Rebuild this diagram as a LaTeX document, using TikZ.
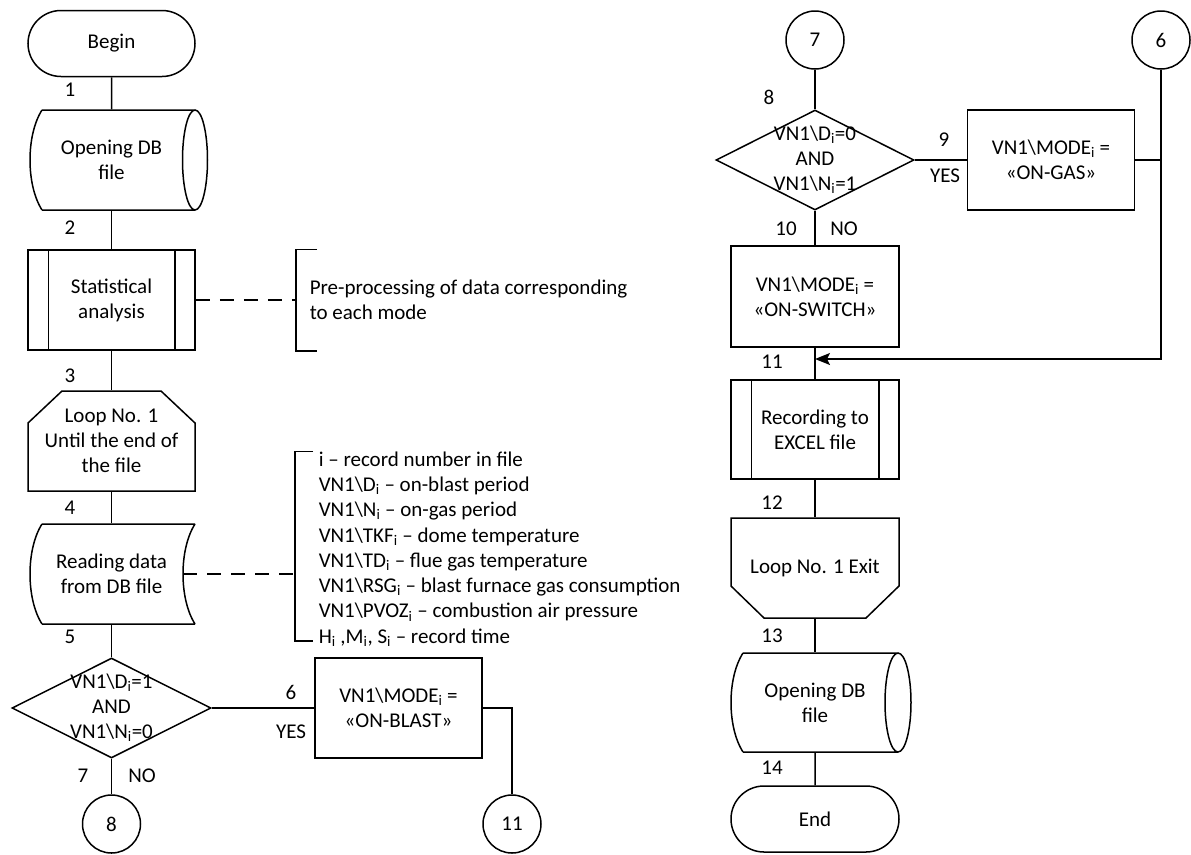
\documentclass[tikz,border=0pt]{standalone}
\usepackage{fontspec}
\setmainfont{Carlito}
\usetikzlibrary{shapes.geometric,shapes.misc,arrows.meta}
\newcommand\sbi{\textsubscript{i}}
\newcommand\bsl{\textbackslash{}}
\begin{document}
\begin{tikzpicture}[x=1pt,y=-1pt, line width=1.5pt,
  every node/.style={font=\fontsize{21}{25}\selectfont, align=center, inner sep=0pt, text=black},
  term/.style={rounded rectangle, draw, minimum width=167pt, minimum height=66pt},
  proc/.style={rectangle, draw, minimum width=167pt, minimum height=100pt},
  ghost/.style={rectangle, minimum width=167pt, minimum height=100pt},
  conn/.style={circle, draw, minimum size=58pt},
  dec/.style={diamond, draw, minimum width=199pt, minimum height=100pt},
  dline/.style={dash pattern=on 14pt off 10pt},
  brk/.style={rectangle, minimum width=0pt},
  arr/.style={-{Stealth[length=15pt,width=12pt,inset=3pt]}},
]
\useasboundingbox (0,0) rectangle (1191,854);

% ---------- left column ----------
\node[term] (begin) at (111.5,43.5) {Begin};

\node[ghost] (odb) at (111.5,160) {Opening DB\\file};
\draw (42,110) -- (195,110) (42,210) -- (195,210)
      (42,110) .. controls (26,135) and (26,185) .. (42,210)
      (195,160) ellipse [x radius=12.5, y radius=50];

\node[proc] (stat) at (111.5,300) {Statistical\\analysis};
\draw ([xshift=21pt]stat.north west) -- ([xshift=21pt]stat.south west)
      ([xshift=-21pt]stat.north east) -- ([xshift=-21pt]stat.south east);

\node[ghost] (loop) at (111.5,441) {Loop No. 1\\Until the end of\\the file};
\draw (28,491) -- (28,423) -- (62,391) -- (161,391) -- (195,423) -- (195,491) -- cycle;

\node[ghost] (rd) at (111.5,574) {Reading data\\from DB file};
\draw (42,524) -- (195,524) (42,624) -- (195,624)
      (42,524) .. controls (26,549) and (26,599) .. (42,624)
      (195,524) .. controls (179,549) and (179,599) .. (195,624);
\coordinate (rdr) at (183,574);

\node[dec] (d1) at (111.5,708) {};
\node (d1t) at (111.5,708) {VN1\bsl D\sbi=1\\AND\\VN1\bsl N\sbi=0};

\node[proc] (b6) at (398.5,708) {VN1\bsl MODE\sbi{} =\\«ON-BLAST»};
\node[conn] (c8) at (111.5,824) {8};
\node[conn] (c11) at (512,824) {11};

% brackets and notes
\node[brk, minimum height=100pt] (br1) at (296,300) {};
\draw ([xshift=21pt]br1.north) -- (br1.north) -- (br1.south) -- ([xshift=21pt]br1.south);
\node[anchor=west, align=left] (note1) at (309,300) {Pre-processing of data corresponding\\to each mode};

\node[brk, minimum height=188pt] (br2) at (295,546) {};
\draw ([xshift=18pt]br2.north) -- (br2.north) -- (br2.south) -- ([xshift=18pt]br2.south);
\node[anchor=west, align=left, font=\fontsize{21}{25.3}\selectfont] (note2) at (318,549) {%
i -- record number in file\\
VN1\bsl D\sbi{} -- on-blast period\\
VN1\bsl N\sbi{} -- on-gas period\\
VN1\bsl TKF\sbi{} -- dome temperature\\
VN1\bsl TD\sbi{} -- flue gas temperature\\
VN1\bsl RSG\sbi{} -- blast furnace gas consumption\\
VN1\bsl PVOZ\sbi{} -- combustion air pressure\\
H\sbi{} ,M\sbi, S\sbi{} -- record time};

% left connectors
\draw (begin) -- (odb);
\draw (odb) -- (stat);
\draw (stat) -- (loop);
\draw (loop) -- (rd);
\draw (rd) -- (d1);
\draw (d1) -- (c8);
\draw (d1.east) -- (b6.west);
\draw (b6.east) -| (c11);
\draw[dline] (stat) -- (br1);
\draw[dline] (rdr) -- (rdr -| br2);

% left labels
\node (l1) at (70,90) {1};
\node (l2) at (70,228) {2};
\node (l3) at (70,376) {3};
\node (l4) at (70,508) {4};
\node (l5) at (70,637) {5};
\node (l6) at (291,692) {6};
\node (y6) at (291,732) {YES};
\node (l7) at (83,776) {7};
\node (n7) at (142,776) {NO};

% ---------- right column ----------
\node[conn] (c7) at (815,40) {7};
\node[conn] (c6) at (1161,40) {6};

\node[dec, minimum width=198pt] (d2) at (815,160) {};
\node (d2t) at (815,160) {VN1\bsl D\sbi=0\\AND\\VN1\bsl N\sbi=1};

\node[proc] (gas) at (1051,160) {VN1\bsl MODE\sbi{} =\\«ON-GAS»};
\node[proc, minimum width=168pt, minimum height=101pt] (sw) at (815,296.5) {VN1\bsl MODE\sbi{} =\\«ON-SWITCH»};
\coordinate (m11) at (815,359);

\node[proc, minimum width=168pt, minimum height=99pt] (rec) at (815,429.5) {Recording to\\EXCEL file};
\draw ([xshift=21pt]rec.north west) -- ([xshift=21pt]rec.south west)
      ([xshift=-21pt]rec.north east) -- ([xshift=-21pt]rec.south east);

\node[ghost, minimum width=168pt] (lexit) at (815,568) {Loop No. 1 Exit};
\draw (731,518) -- (899,518) -- (899,586) -- (866,618) -- (764,618) -- (731,586) -- cycle;

\node[ghost, minimum height=99pt] (odb2) at (815,702.5) {Opening DB\\file};
\draw (743,653) -- (898,653) (743,752) -- (898,752)
      (743,653) .. controls (727,678) and (727,727) .. (743,752)
      (898,702.5) ellipse [x radius=13, y radius=49.5];

\node[term, minimum width=168pt] (end) at (815,819) {End};

% right connectors
\draw (c7) -- (d2);
\draw (d2.east) -- (gas.west);
\draw (gas.east) -- (gas.east -| c6);
\draw[arr] (c6) |- (m11);
\draw (d2) -- (sw);
\draw (sw) -- (rec);
\draw (rec) -- (lexit);
\draw (lexit) -- (odb2);
\draw (odb2) -- (end);

% right labels
\node (l8) at (769,97) {8};
\node (l9) at (944,140) {9};
\node (y9) at (945,176) {YES};
\node (l10) at (786,229) {10};
\node (n10) at (844,229) {NO};
\node (l11) at (772,362) {11};
\node (l12) at (772,503) {12};
\node (l13) at (772,636) {13};
\node (l14) at (772,768) {14};
\end{tikzpicture}
\end{document}
